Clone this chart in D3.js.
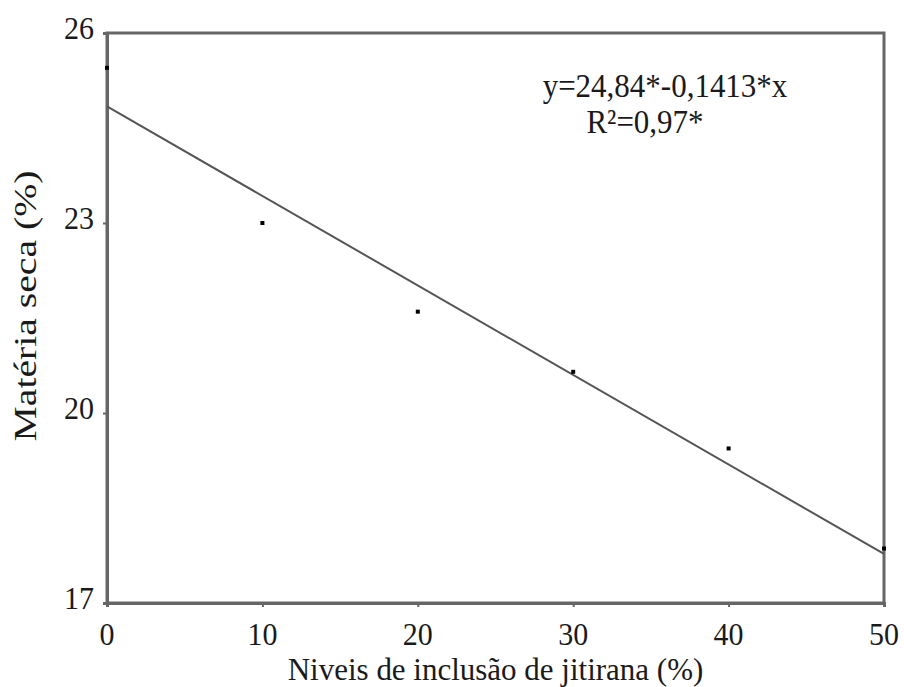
<!DOCTYPE html>
<html>
<head>
<meta charset="utf-8">
<script src="https://cdn.jsdelivr.net/npm/d3@7"></script>
<style>
  body { margin: 0; background: #fff; }
  svg text { font-family: "Liberation Serif", "Times New Roman", Times, "DejaVu Serif", serif; fill: #1a1a1a; }
</style>
</head>
<body>
<div id="chart"></div>
<script>
var levels = [0, 10, 20, 30, 40, 50];
var dryMatter = [25.45, 23.0, 21.6, 20.65, 19.44, 17.86];

// fitted line y = 24.84 - 0.1413x, endpoints
var fitX = [0, 50];
var fitY = [24.84, 17.775];

var xTicks = [0, 10, 20, 30, 40, 50];
var yTicks = [17, 20, 23, 26];

var equationText = "y=24,84*-0,1413*x";
var r2Text = "R\u00b2=0,97*";
var xTitle = "Niveis de inclusão de jitirana (%)";
var yTitle = "Matéria seca (%)";

var width = 904, height = 687;
var serif = '"Liberation Serif", "Times New Roman", Times, serif';
var stretch = 1.08;   // the original text is a bit tall

var svg = d3.select("#chart").append("svg")
    .attr("width", width)
    .attr("height", height);

var x = d3.scaleLinear().domain([0, 50]).range([107, 884]);
var y = d3.scaleLinear().domain([17, 26]).range([603, 33]);

var axisColor = "#666";

// frame
svg.append("rect")
    .attr("x", x(0))
    .attr("y", y(26))
    .attr("width", x(50) - x(0))
    .attr("height", y(17) - y(26))
    .attr("fill", "none")
    .attr("stroke", axisColor)
    .attr("stroke-width", 3);

// axes (ticks only, labels drawn below)
var xAxis = svg.append("g")
    .attr("transform", "translate(0," + y(17) + ")")
    .call(d3.axisBottom(x).tickValues(xTicks).tickSize(4).tickFormat(""));
var yAxis = svg.append("g")
    .attr("transform", "translate(" + x(0) + ",0)")
    .call(d3.axisLeft(y).tickValues(yTicks).tickSize(4).tickFormat(""));
[xAxis, yAxis].forEach(function (g) {
    g.select(".domain").attr("stroke", axisColor).attr("stroke-width", 3);
    g.selectAll(".tick line").attr("stroke", axisColor).attr("stroke-width", 2);
});

// tick labels
svg.selectAll(".xlab")
    .data(xTicks)
    .enter().append("text")
    .attr("class", "xlab")
    .attr("font-family", serif)
    .attr("text-anchor", "middle")
    .attr("font-size", 30)
    .attr("transform", function (d) { return "translate(" + x(d) + ",645) scale(1," + stretch + ")"; })
    .text(function (d) { return d; });

svg.selectAll(".ylab")
    .data(yTicks)
    .enter().append("text")
    .attr("class", "ylab")
    .attr("font-family", serif)
    .attr("text-anchor", "end")
    .attr("font-size", 30)
    .attr("transform", function (d) { return "translate(94," + (y(d) + 6) + ") scale(1," + stretch + ")"; })
    .text(function (d) { return d; });

// regression line
var line = d3.line()
    .x(function (d) { return x(d[0]); })
    .y(function (d) { return y(d[1]); });
svg.append("path")
    .datum(d3.zip(fitX, fitY))
    .attr("d", line)
    .attr("fill", "none")
    .attr("stroke", "#555")
    .attr("stroke-width", 2);

// points
svg.selectAll(".pt")
    .data(d3.zip(levels, dryMatter))
    .enter().append("rect")
    .attr("class", "pt")
    .attr("x", function (d) { return x(d[0]) - 2; })
    .attr("y", function (d) { return y(d[1]) - 2; })
    .attr("width", 4)
    .attr("height", 4)
    .attr("fill", "#000");

// equation
svg.append("text")
    .attr("font-family", serif)
    .attr("text-anchor", "middle")
    .attr("font-size", 31)
    .attr("transform", "translate(665,97) scale(1," + stretch + ")")
    .text(equationText);
svg.append("text")
    .attr("font-family", serif)
    .attr("text-anchor", "middle")
    .attr("font-size", 31)
    .attr("transform", "translate(645,133) scale(1," + stretch + ")")
    .text(r2Text);

// axis titles
svg.append("text")
    .attr("font-family", serif)
    .attr("text-anchor", "middle")
    .attr("font-size", 31)
    .attr("transform", "translate(" + ((x(0) + x(50)) / 2) + ",680) scale(1,1.05)")
    .text(xTitle);

svg.append("text")
    .attr("font-family", serif)
    .attr("text-anchor", "middle")
    .attr("font-size", 31)
    .attr("transform", "translate(36,306) scale(1,1.28) rotate(-90)")
    .text(yTitle);
</script>
</body>
</html>
